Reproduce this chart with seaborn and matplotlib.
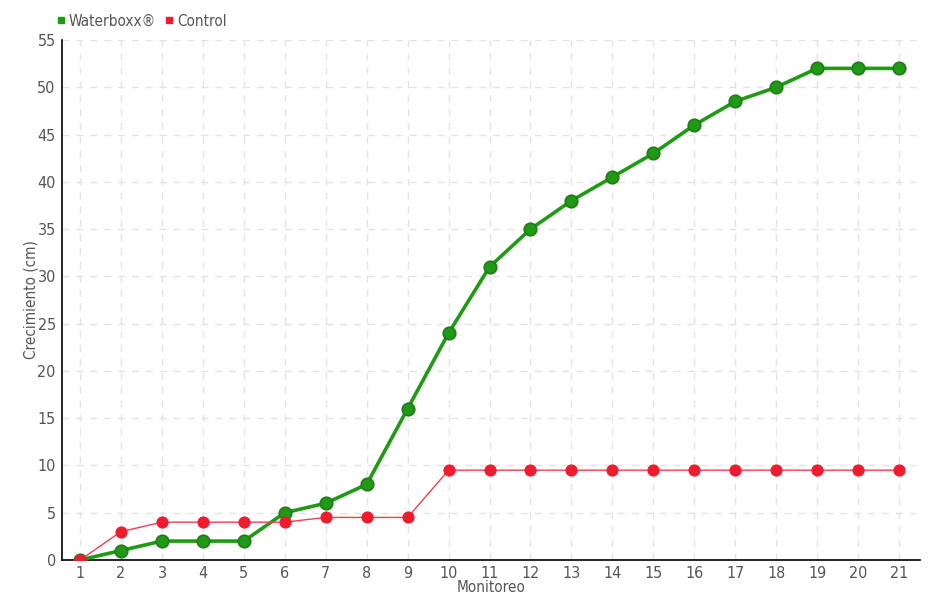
import matplotlib
matplotlib.use('Agg')
import matplotlib.pyplot as plt
from matplotlib.lines import Line2D
import seaborn as sns
import pandas as pd

monitoreo = list(range(1, 22))
waterboxx = [0, 1, 2, 2, 2, 5, 6, 8, 16, 24, 31, 35, 38, 40.5, 43, 46, 48.5, 50, 52, 52, 52]
control = [0, 3, 4, 4, 4, 4, 4.5, 4.5, 4.5, 9.5, 9.5, 9.5, 9.5, 9.5, 9.5, 9.5, 9.5, 9.5, 9.5, 9.5, 9.5]

df = pd.DataFrame({'Monitoreo': monitoreo, 'Waterboxx': waterboxx, 'Control': control})

sns.set_style('white')
plt.rcParams['font.family'] = ['DejaVu Sans']
plt.rcParams['font.stretch'] = 'condensed'
txt = '#555555'
green = '#1f9a14'
red = '#ee1c2e'

fig = plt.figure(figsize=(9.4, 6), dpi=100)
ax = fig.add_axes([0.066, 0.0667, 0.913, 0.8666])

sns.lineplot(data=df, x='Monitoreo', y='Waterboxx', ax=ax, color=green, linewidth=2.6,
             marker='o', markersize=9, markerfacecolor=green, markeredgecolor='#237a1b',
             markeredgewidth=1.2, zorder=3)
sns.lineplot(data=df, x='Monitoreo', y='Control', ax=ax, color='#f0404f', linewidth=1,
             marker='o', markersize=8, markerfacecolor=red, markeredgecolor=red, zorder=4)

ax.set_xlim(0.56, 21.52)
ax.set_ylim(0, 55)
ax.set_xticks(monitoreo)
ax.set_yticks(range(0, 56, 5))
ax.grid(True, linestyle=(0, (5, 5)), color='#e3e3e3', linewidth=1)
for s in ['top', 'right']:
    ax.spines[s].set_visible(False)
for s in ['left', 'bottom']:
    ax.spines[s].set_color('black')
    ax.spines[s].set_linewidth(1.2)
ax.tick_params(axis='both', direction='inout', length=7, width=1.2, colors='black',
               labelcolor=txt, labelsize=11.5, pad=1)
ax.set_xlabel('Monitoreo', fontsize=11, color=txt, labelpad=-1)
ax.set_ylabel('Crecimiento (cm)', fontsize=11, color=txt, labelpad=-1)

handles = [Line2D([], [], linestyle='none', marker='s', markersize=5, color=green),
           Line2D([], [], linestyle='none', marker='s', markersize=5, color=red)]
leg = fig.legend(handles, ['Waterboxx®', 'Control'], loc='upper left', bbox_to_anchor=(0.045, 1.0),
                 ncol=2, frameon=False, fontsize=11, handlelength=0.6, handletextpad=0.2,
                 columnspacing=0.6, labelcolor=txt)

plt.savefig('out.png', dpi=100)
